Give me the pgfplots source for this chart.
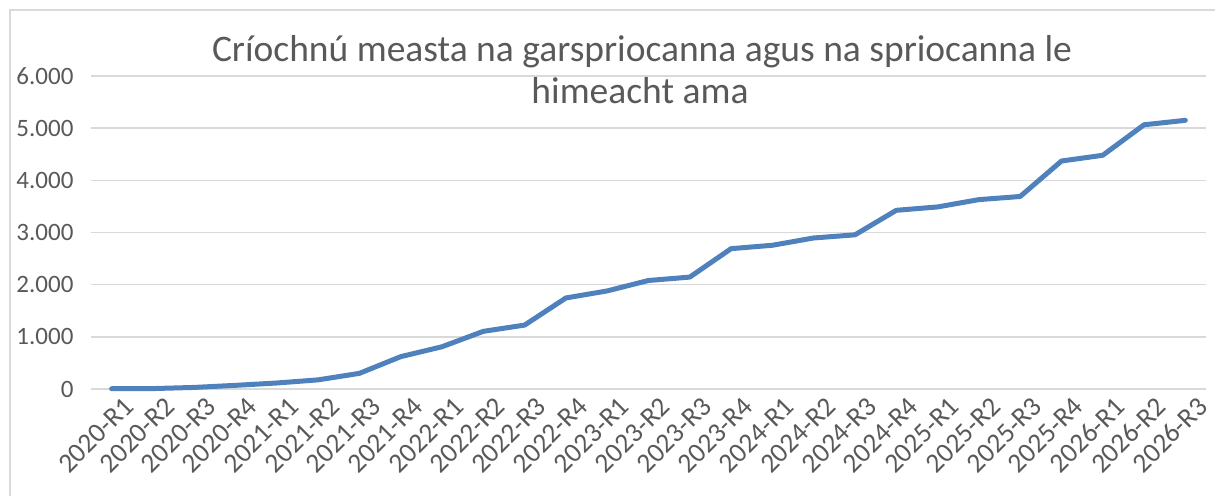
\documentclass[border=0pt]{standalone}
\usepackage{pgfplots}
\pgfplotsset{compat=1.18}
\usepackage{fontspec}
\setmainfont{Carlito}
\definecolor{linecol}{HTML}{4F81BD}
\definecolor{gridcol}{HTML}{D9D9D9}
\definecolor{textcol}{HTML}{595959}
\begin{document}
\begin{tikzpicture}[x=1bp,y=1bp]
\path[use as bounding box] (0,0) rectangle (1215,496);
\draw[gridcol, line width=1.5bp] (10,0) -- (10,486) -- (1216,486);
\begin{axis}[
  at={(91bp,107bp)}, anchor=south west,
  scale only axis, width=1115bp, height=313bp,
  xmin=-0.5, xmax=26.5, ymin=0, ymax=6000,
  axis line style={draw=none},
  tick style={draw=none},
  ymajorgrids, grid style={gridcol, line width=1.5bp},
  ytick={0,1000,2000,3000,4000,5000,6000},
  yticklabels={0,1.000,2.000,3.000,4.000,5.000,6.000},
  xtick={0,...,26},
  xticklabels={2020-R1,2020-R2,2020-R3,2020-R4,2021-R1,2021-R2,2021-R3,2021-R4,2022-R1,2022-R2,2022-R3,2022-R4,2023-R1,2023-R2,2023-R3,2023-R4,2024-R1,2024-R2,2024-R3,2024-R4,2025-R1,2025-R2,2025-R3,2025-R4,2026-R1,2026-R2,2026-R3},
  ticklabel style={text=textcol},
  yticklabel style={font=\fontsize{25bp}{29bp}\selectfont, anchor=east, xshift=-14bp},
  xticklabel style={font=\fontsize{27.5bp}{31bp}\selectfont, rotate=45, anchor=north east, inner sep=0pt, xshift=3bp, yshift=-12bp},
  /pgf/number format/assume math mode=true,
  clip=false,
]
\addplot[linecol, line width=5bp, line cap=round, line join=round] coordinates {
(0,5) (1,8) (2,30) (3,70) (4,115) (5,175) (6,300) (7,620) (8,810) (9,1105)
(10,1225) (11,1745) (12,1880) (13,2080) (14,2145) (15,2690) (16,2755) (17,2895)
(18,2955) (19,3425) (20,3490) (21,3630) (22,3690) (23,4370) (24,4480) (25,5065) (26,5150)
};
\end{axis}
\node[anchor=base, text=textcol, font=\fontsize{37.5bp}{44bp}\selectfont, inner sep=0pt] at (642,434) {Críochnú measta na garspriocanna agus na spriocanna le};
\node[anchor=base, text=textcol, font=\fontsize{37.5bp}{44bp}\selectfont, inner sep=0pt] at (640,392) {himeacht ama};
\end{tikzpicture}
\end{document}
